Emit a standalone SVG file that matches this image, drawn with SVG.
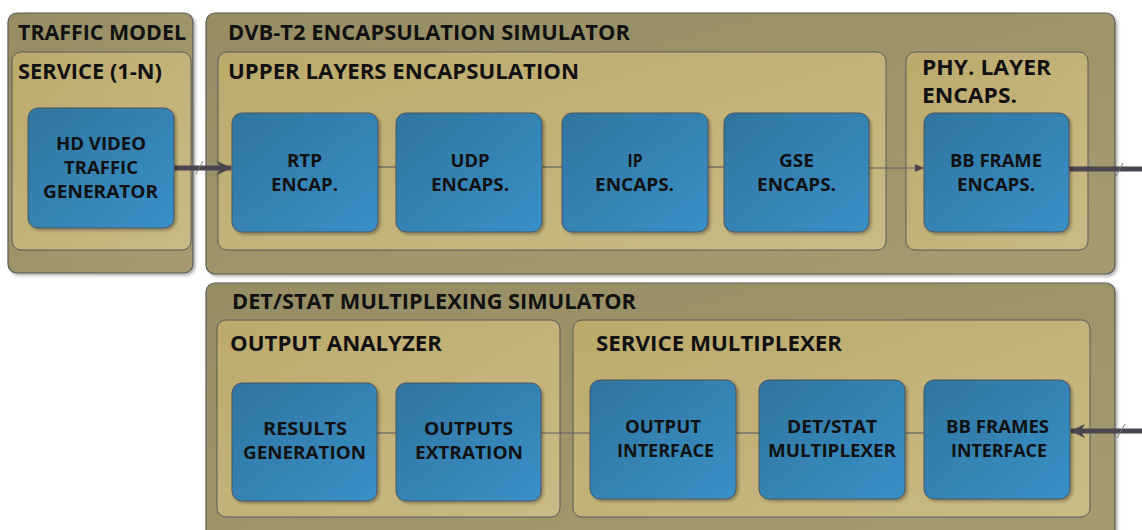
<svg xmlns="http://www.w3.org/2000/svg" width="1142" height="530" viewBox="0 0 1142 530">
<defs>
<linearGradient id="gOuter" x1="0" y1="0" x2="1" y2="1"><stop offset="0" stop-color="#978d64"/><stop offset="1" stop-color="#a59b70"/></linearGradient>
<linearGradient id="gInner" x1="0" y1="0" x2="1" y2="1"><stop offset="0" stop-color="#bcaa6c"/><stop offset="1" stop-color="#c9bb86"/></linearGradient>
<linearGradient id="gBlue" x1="0" y1="0" x2="1" y2="1"><stop offset="0" stop-color="#2f759f"/><stop offset="1" stop-color="#3a90c8"/></linearGradient>
<filter id="sh" x="-10%" y="-10%" width="125%" height="125%"><feDropShadow dx="2" dy="2" stdDeviation="1.5" flood-color="#000" flood-opacity="0.3"/></filter>
<marker id="ahBig" markerWidth="15" markerHeight="14" refX="14" refY="7" orient="auto" markerUnits="userSpaceOnUse" viewBox="0 0 15 14"><path d="M0,0 L15,7 L0,14 L4,7 Z" fill="#4a4650"/></marker>
<marker id="ahSmall" markerWidth="9" markerHeight="8" refX="8" refY="4" orient="auto" markerUnits="userSpaceOnUse"><path d="M0,0 L9,4 L0,8 Z" fill="#4a4650"/></marker>
<style>
.outer{fill:url(#gOuter);stroke:#5a5a5a;stroke-width:1.2;filter:url(#sh)}
.inner{fill:url(#gInner);stroke:#5a5a5a;stroke-width:1}
.blue{fill:url(#gBlue);stroke:#4a5560;stroke-width:1;filter:url(#sh)}
.t1{font-family:"Open Sans",Lato,sans-serif;font-weight:bold;font-size:21px;fill:#111}
.tb{font-family:"Open Sans",Lato,sans-serif;font-weight:bold;font-size:18px;fill:#111;text-anchor:middle}
.thin{stroke:#5e5e66;stroke-width:1.2;fill:none}
.thick{stroke:#4a4650;stroke-width:5;fill:none}
.slash{stroke:#7a7a7a;stroke-width:1;fill:none}
</style>
</defs>

<g id="traffic-model">
<rect class="outer" x="8" y="13" width="185" height="260" rx="9"/>
<text class="t1" x="18" y="40" textLength="168" lengthAdjust="spacingAndGlyphs">TRAFFIC MODEL</text>
</g>
<g id="dvb-t2">
<rect class="outer" x="206" y="13" width="909" height="261" rx="9"/>
<text class="t1" x="228" y="40" textLength="402" lengthAdjust="spacingAndGlyphs">DVB-T2 ENCAPSULATION SIMULATOR</text>
</g>
<g id="det-stat-sim">
<rect class="outer" x="206" y="283" width="909" height="262" rx="9"/>
<text class="t1" x="232" y="309" textLength="404" lengthAdjust="spacingAndGlyphs">DET/STAT MULTIPLEXING SIMULATOR</text>
</g>

<g id="service">
<rect class="inner" x="12" y="52" width="179" height="198" rx="9"/>
<text class="t1" x="18" y="79" textLength="144" lengthAdjust="spacingAndGlyphs">SERVICE (1-N)</text>
</g>
<g id="upper-layers">
<rect class="inner" x="218" y="52" width="668" height="198" rx="9"/>
<text class="t1" x="228" y="79" textLength="351" lengthAdjust="spacingAndGlyphs">UPPER LAYERS ENCAPSULATION</text>
</g>
<g id="phy-layer">
<rect class="inner" x="906" y="52" width="182" height="198" rx="9"/>
<text class="t1" x="922" y="75" textLength="129" lengthAdjust="spacingAndGlyphs">PHY. LAYER</text>
<text class="t1" x="922" y="103" textLength="95" lengthAdjust="spacingAndGlyphs">ENCAPS.</text>
</g>
<g id="output-analyzer">
<rect class="inner" x="217" y="320" width="343" height="197" rx="9"/>
<text class="t1" x="230" y="351" textLength="212" lengthAdjust="spacingAndGlyphs">OUTPUT ANALYZER</text>
</g>
<g id="service-multiplexer">
<rect class="inner" x="573" y="320" width="517" height="197" rx="9"/>
<text class="t1" x="596" y="351" textLength="246" lengthAdjust="spacingAndGlyphs">SERVICE MULTIPLEXER</text>
</g>

<g id="connectors">
<line class="thin" x1="378" y1="167" x2="396" y2="167"/>
<line class="thin" x1="542" y1="167" x2="562" y2="167"/>
<line class="thin" x1="708" y1="167" x2="724" y2="167"/>
<line class="thin" x1="869" y1="168" x2="923" y2="168" marker-end="url(#ahSmall)"/>
<line class="thick" x1="172" y1="168" x2="231" y2="168" marker-end="url(#ahBig)"/>
<line class="slash" x1="196" y1="174" x2="203" y2="161"/>
<line class="thick" x1="1069" y1="169" x2="1142" y2="169"/>
<line class="slash" x1="1116" y1="176" x2="1123" y2="163"/>
<line class="thick" x1="1142" y1="431" x2="1071" y2="431" marker-end="url(#ahBig)"/>
<line class="slash" x1="1117" y1="438" x2="1125" y2="424"/>
<line class="thin" x1="377" y1="433" x2="396" y2="433"/>
<line class="thin" x1="541" y1="433" x2="590" y2="433"/>
<line class="thin" x1="736" y1="433" x2="759" y2="433"/>
<line class="thin" x1="905" y1="433" x2="924" y2="433"/>
</g>

<g id="hd-video">
<rect class="blue" x="28" y="108" width="146" height="120" rx="10"/>
<text class="tb" x="101" y="150" textLength="90" lengthAdjust="spacingAndGlyphs">HD VIDEO</text>
<text class="tb" x="101" y="174" textLength="74" lengthAdjust="spacingAndGlyphs">TRAFFIC</text>
<text class="tb" x="100.5" y="198" textLength="115" lengthAdjust="spacingAndGlyphs">GENERATOR</text>
</g>
<g id="rtp">
<rect class="blue" x="232" y="113" width="146" height="119" rx="10"/>
<text class="tb" x="304.5" y="167" textLength="35" lengthAdjust="spacingAndGlyphs">RTP</text>
<text class="tb" x="304.5" y="191" textLength="67" lengthAdjust="spacingAndGlyphs">ENCAP.</text>
</g>
<g id="udp">
<rect class="blue" x="396" y="113" width="146" height="119" rx="10"/>
<text class="tb" x="470" y="167" textLength="39" lengthAdjust="spacingAndGlyphs">UDP</text>
<text class="tb" x="470" y="191" textLength="78" lengthAdjust="spacingAndGlyphs">ENCAPS.</text>
</g>
<g id="ip">
<rect class="blue" x="562" y="113" width="146" height="119" rx="10"/>
<text class="tb" x="635" y="167" textLength="15" lengthAdjust="spacingAndGlyphs">IP</text>
<text class="tb" x="634.5" y="191" textLength="79" lengthAdjust="spacingAndGlyphs">ENCAPS.</text>
</g>
<g id="gse">
<rect class="blue" x="724" y="113" width="145" height="119" rx="10"/>
<text class="tb" x="796.5" y="167" textLength="35" lengthAdjust="spacingAndGlyphs">GSE</text>
<text class="tb" x="796.5" y="191" textLength="79" lengthAdjust="spacingAndGlyphs">ENCAPS.</text>
</g>
<g id="bb-frame">
<rect class="blue" x="924" y="113" width="145" height="119" rx="10"/>
<text class="tb" x="996" y="167" textLength="92" lengthAdjust="spacingAndGlyphs">BB FRAME</text>
<text class="tb" x="996" y="191" textLength="78" lengthAdjust="spacingAndGlyphs">ENCAPS.</text>
</g>
<g id="results">
<rect class="blue" x="232" y="383" width="145" height="118" rx="10"/>
<text class="tb" x="305" y="435" textLength="84" lengthAdjust="spacingAndGlyphs">RESULTS</text>
<text class="tb" x="304.5" y="459" textLength="123" lengthAdjust="spacingAndGlyphs">GENERATION</text>
</g>
<g id="outputs">
<rect class="blue" x="396" y="383" width="145" height="118" rx="10"/>
<text class="tb" x="468.5" y="435" textLength="89" lengthAdjust="spacingAndGlyphs">OUTPUTS</text>
<text class="tb" x="469" y="459" textLength="108" lengthAdjust="spacingAndGlyphs">EXTRATION</text>
</g>
<g id="output-interface">
<rect class="blue" x="590" y="380" width="146" height="119" rx="10"/>
<text class="tb" x="663" y="433" textLength="76" lengthAdjust="spacingAndGlyphs">OUTPUT</text>
<text class="tb" x="665.5" y="457" textLength="97" lengthAdjust="spacingAndGlyphs">INTERFACE</text>
</g>
<g id="det-stat-mux">
<rect class="blue" x="759" y="380" width="146" height="119" rx="10"/>
<text class="tb" x="832" y="433" textLength="90" lengthAdjust="spacingAndGlyphs">DET/STAT</text>
<text class="tb" x="832" y="457" textLength="128" lengthAdjust="spacingAndGlyphs">MULTIPLEXER</text>
</g>
<g id="bb-frames-interface">
<rect class="blue" x="924" y="380" width="146" height="119" rx="10"/>
<text class="tb" x="997.5" y="433" textLength="103" lengthAdjust="spacingAndGlyphs">BB FRAMES</text>
<text class="tb" x="999" y="457" textLength="96" lengthAdjust="spacingAndGlyphs">INTERFACE</text>
</g>
</svg>
